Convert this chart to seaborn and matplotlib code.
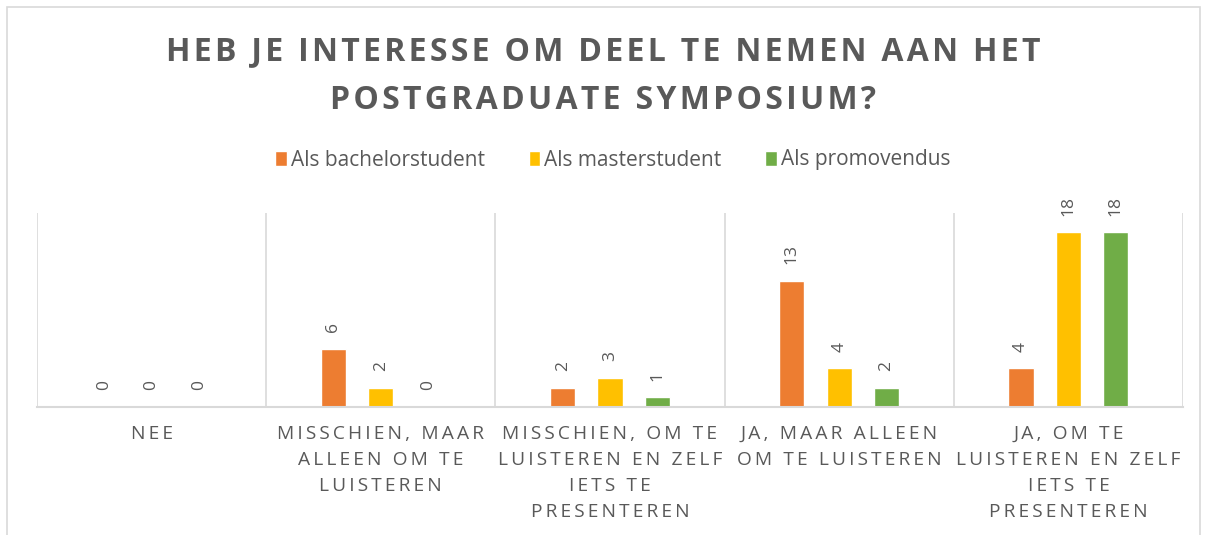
import matplotlib
matplotlib.use('Agg')
import matplotlib.pyplot as plt
from matplotlib.patches import Rectangle
import pandas as pd
import seaborn as sns

# antwoorden op de x-as
categories = ['NEE',
              'MISSCHIEN, MAAR\nALLEEN OM TE\nLUISTEREN',
              'MISSCHIEN, OM TE\nLUISTEREN EN ZELF\nIETS TE\nPRESENTEREN',
              'JA, MAAR ALLEEN\nOM TE LUISTEREN',
              'JA, OM TE\nLUISTEREN EN ZELF\nIETS TE\nPRESENTEREN']
series_names = ['Als bachelorstudent', 'Als masterstudent', 'Als promovendus']
bachelor = [0, 6, 2, 13, 4]
master = [0, 2, 3, 4, 18]
promovendus = [0, 0, 1, 2, 18]

title = 'HEB JE INTERESSE OM DEEL TE NEMEN AAN HET\nPOSTGRADUATE SYMPOSIUM?'
colors = ['#ED7D31', '#FFC000', '#70AD47']
grey_txt = '#595959'
grey_line = '#D9D9D9'


def spaced(s, sep):
    # letterafstand zoals in Excel nabootsen
    return '\n'.join(sep.join(line) for line in s.split('\n'))


rows = []
for name, vals in zip(series_names, [bachelor, master, promovendus]):
    for cat, v in zip(categories, vals):
        rows.append({'antwoord': cat, 'groep': name, 'aantal': v})
df = pd.DataFrame(rows)

sns.set_style('white')
plt.rcParams['font.family'] = ['Open Sans', 'DejaVu Sans']

fig = plt.figure(figsize=(12.06, 5.35), dpi=100)
ax = fig.add_axes([37/1206, 128/535, 1146/1206, 194/535])

sns.barplot(data=df, x='antwoord', y='aantal', hue='groep', palette=colors,
            width=0.62, gap=0.47, ax=ax, saturation=1)

ax.set_xlim(-0.5, 4.5)
ax.set_ylim(0, 20)
ax.set_yticks([])
ax.set_xlabel('')
ax.set_ylabel('')
for s in ['top', 'right', 'left']:
    ax.spines[s].set_visible(False)
ax.spines['bottom'].set_color(grey_line)
ax.spines['bottom'].set_linewidth(1.5)
for b in [-0.5, 0.5, 1.5, 2.5, 3.5, 4.5]:
    ax.axvline(b, color=grey_line, lw=1.2, zorder=0)

ax.set_xticks(range(len(categories)))
ax.set_xticklabels([spaced(c, '\u2009') for c in categories], fontsize=13.8,
                   color=grey_txt, linespacing=1.56, multialignment='center')
ax.tick_params(axis='x', length=0, pad=13)

for cont in ax.containers:
    ax.bar_label(cont, fmt='%g', rotation=90, padding=12, fontsize=12.5, color=grey_txt)

handles, labels = ax.get_legend_handles_labels()
ax.legend_.remove()
fig.legend(handles, labels, loc='center', bbox_to_anchor=(613/1206, 1 - 160/535), ncol=3,
           frameon=False, fontsize=15, labelcolor=grey_txt, handlelength=0.55,
           handleheight=0.7, handletextpad=0.2, columnspacing=2.1)

fig.text(0.5, 1 - 76/535, spaced(title, '\u200a'), ha='center', va='center', fontsize=23,
         fontweight='bold', color=grey_txt, linespacing=1.65)

# kader rond de grafiek
fig.patches.append(Rectangle((7/1206, -0.02), 1193/1206, 1.02 - 7/535, transform=fig.transFigure,
                             fill=False, edgecolor=grey_line, lw=1.2))

fig.savefig('out.png', dpi=100)
